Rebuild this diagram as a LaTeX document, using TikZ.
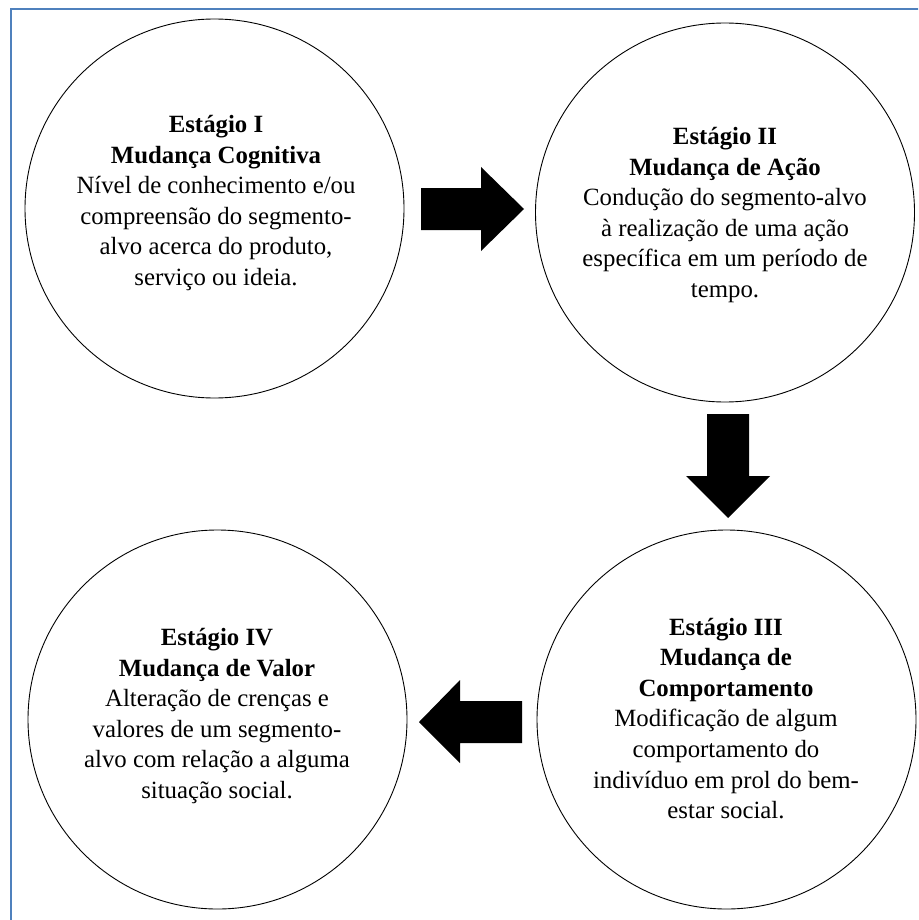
\documentclass[tikz,border=0pt]{standalone}
\usepackage{fontspec}
\setmainfont{Liberation Serif}
\definecolor{framebl}{RGB}{79,129,189}
\begin{document}
\begin{tikzpicture}[x=1pt,y=-1pt,
  stage/.style={circle,draw=black,line width=0.9pt,minimum size=379pt,inner sep=0pt},
  stagetext/.style={align=center,font=\fontsize{24.8}{30.6}\selectfont,inner sep=0pt},
  blockarrow/.style={fill=black,draw=none}]
\useasboundingbox (0,0) rectangle (918,920);
\clip (0,0) rectangle (918,920);
\draw[framebl,line width=2pt] (11,9) rectangle (960,960);
% circles
\node[stage] (c1) at (214.5,208.5) {};
\node[stage] (c2) at (725,212.5) {};
\node[stage] (c3) at (726.5,719.5) {};
\node[stage] (c4) at (217.5,719.5) {};
% texts
\node[stagetext] (t1) at (216,203) {\textbf{Estágio I}\\\textbf{Mudança Cognitiva}\\Nível de conhecimento e/ou\\compreensão do segmento-\\alvo acerca do produto,\\serviço ou ideia.};
\node[stagetext] (t2) at (725,215) {\textbf{Estágio II}\\\textbf{Mudança de Ação}\\Condução do segmento-alvo\\à realização de uma ação\\específica em um período de\\tempo.};
\node[stagetext] (t3) at (726,718.5) {\textbf{Estágio III}\\\textbf{Mudança de}\\\textbf{Comportamento}\\Modificação de algum\\comportamento do\\indivíduo em prol do bem-\\estar social.};
\node[stagetext] (t4) at (217,716) {\textbf{Estágio IV}\\\textbf{Mudança de Valor}\\Alteração de crenças e\\valores de um segmento-\\alvo com relação a alguma\\situação social.};
% block arrows
\fill[blockarrow] (421,188) -- (481,188) -- (481,167) -- (524,209) -- (481,251) -- (481,230) -- (421,230) -- cycle;
\fill[blockarrow] (707,414) -- (749,414) -- (749,476) -- (770,476) -- (728,518) -- (686,476) -- (707,476) -- cycle;
\fill[blockarrow] (522,701) -- (460,701) -- (460,680) -- (419,722) -- (460,763) -- (460,743) -- (522,743) -- cycle;
\end{tikzpicture}
\end{document}
